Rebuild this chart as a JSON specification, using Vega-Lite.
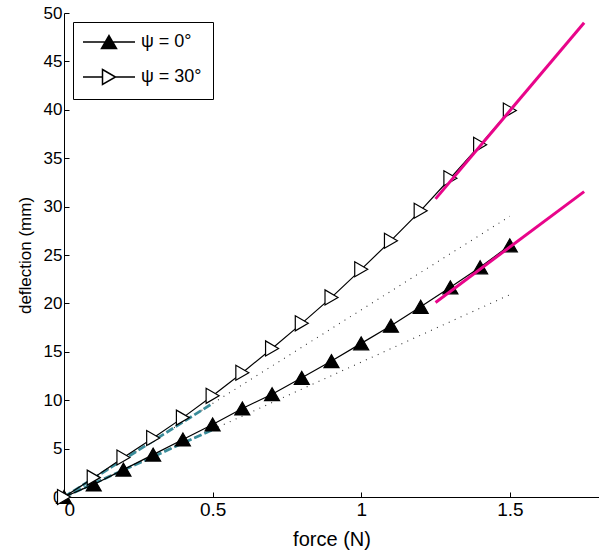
{
  "$schema": "https://vega.github.io/schema/vega-lite/v6.json",
  "autosize": {"type": "none"},
  "width": 535,
  "height": 484,
  "padding": {"left": 64, "top": 13, "right": 0, "bottom": 56},
  "background": "white",
  "config": {
    "view": {"stroke": null},
    "font": "Liberation Sans",
    "axis": {
      "grid": false,
      "domainColor": "black",
      "domainWidth": 1,
      "tickColor": "black",
      "tickWidth": 1,
      "tickSize": -5,
      "labelColor": "black",
      "labelFont": "Liberation Sans",
      "labelFontSize": 17,
      "titleColor": "black",
      "titleFont": "Liberation Sans",
      "titleFontWeight": "normal",
      "titleFontSize": 17
    }
  },
  "datasets": {
    "pts": [
      {"force": 0, "defl": 0, "series": "ψ = 0°"},
      {"force": 0.1, "defl": 1.3, "series": "ψ = 0°"},
      {"force": 0.2, "defl": 2.83, "series": "ψ = 0°"},
      {"force": 0.3, "defl": 4.38, "series": "ψ = 0°"},
      {"force": 0.4, "defl": 5.94, "series": "ψ = 0°"},
      {"force": 0.5, "defl": 7.49, "series": "ψ = 0°"},
      {"force": 0.6, "defl": 9.14, "series": "ψ = 0°"},
      {"force": 0.7, "defl": 10.62, "series": "ψ = 0°"},
      {"force": 0.8, "defl": 12.31, "series": "ψ = 0°"},
      {"force": 0.9, "defl": 14.04, "series": "ψ = 0°"},
      {"force": 1.0, "defl": 15.87, "series": "ψ = 0°"},
      {"force": 1.1, "defl": 17.69, "series": "ψ = 0°"},
      {"force": 1.2, "defl": 19.65, "series": "ψ = 0°"},
      {"force": 1.3, "defl": 21.66, "series": "ψ = 0°"},
      {"force": 1.4, "defl": 23.73, "series": "ψ = 0°"},
      {"force": 1.5, "defl": 26.0, "series": "ψ = 0°"},
      {"force": 0, "defl": 0, "series": "ψ = 30°"},
      {"force": 0.1, "defl": 2.0, "series": "ψ = 30°"},
      {"force": 0.2, "defl": 4.08, "series": "ψ = 30°"},
      {"force": 0.3, "defl": 6.1, "series": "ψ = 30°"},
      {"force": 0.4, "defl": 8.2, "series": "ψ = 30°"},
      {"force": 0.5, "defl": 10.45, "series": "ψ = 30°"},
      {"force": 0.6, "defl": 12.83, "series": "ψ = 30°"},
      {"force": 0.7, "defl": 15.35, "series": "ψ = 30°"},
      {"force": 0.8, "defl": 17.94, "series": "ψ = 30°"},
      {"force": 0.9, "defl": 20.62, "series": "ψ = 30°"},
      {"force": 1.0, "defl": 23.52, "series": "ψ = 30°"},
      {"force": 1.1, "defl": 26.48, "series": "ψ = 30°"},
      {"force": 1.2, "defl": 29.58, "series": "ψ = 30°"},
      {"force": 1.3, "defl": 32.93, "series": "ψ = 30°"},
      {"force": 1.4, "defl": 36.38, "series": "ψ = 30°"},
      {"force": 1.5, "defl": 39.93, "series": "ψ = 30°"}
    ],
    "fits": [
      {"force": 0, "defl": 0, "kind": "dotted", "fit": "d0"},
      {"force": 1.5, "defl": 20.9, "kind": "dotted", "fit": "d0"},
      {"force": 0, "defl": 0, "kind": "dotted", "fit": "d30"},
      {"force": 1.5, "defl": 29.0, "kind": "dotted", "fit": "d30"},
      {"force": 0, "defl": 0, "kind": "teal", "fit": "t0"},
      {"force": 0.5, "defl": 6.95, "kind": "teal", "fit": "t0"},
      {"force": 0, "defl": 0, "kind": "teal", "fit": "t30"},
      {"force": 0.5, "defl": 9.67, "kind": "teal", "fit": "t30"},
      {"force": 1.25, "defl": 20.1, "kind": "magenta", "fit": "m0"},
      {"force": 1.75, "defl": 31.55, "kind": "magenta", "fit": "m0"},
      {"force": 1.25, "defl": 30.8, "kind": "magenta", "fit": "m30"},
      {"force": 1.75, "defl": 49.0, "kind": "magenta", "fit": "m30"}
    ]
  },
  "encoding": {
    "x": {
      "field": "force",
      "type": "quantitative",
      "scale": {"domain": [0, 1.8], "nice": false, "zero": false},
      "axis": {"values": [0, 0.5, 1, 1.5], "format": "~g", "title": "force (N)", "labelPadding": 8, "labelFontSize": 19, "titleFontSize": 20, "titlePadding": 10}
    },
    "y": {
      "field": "defl",
      "type": "quantitative",
      "scale": {"domain": [0, 50], "nice": false},
      "axis": {"values": [0, 5, 10, 15, 20, 25, 30, 35, 40, 45, 50], "format": "d", "title": "deflection (mm)", "labelPadding": 7, "titlePadding": 9}
    }
  },
  "resolve": {"scale": {"shape": "independent", "fill": "independent"}, "legend": {"shape": "independent", "fill": "independent"}},
  "layer": [
    {
      "data": {"name": "fits"},
      "transform": [{"filter": "datum.kind === 'dotted'"}],
      "mark": {"type": "line", "color": "#333333", "strokeWidth": 1.1, "strokeDash": [1, 5.5]},
      "encoding": {"detail": {"field": "fit"}}
    },
    {
      "data": {"name": "fits"},
      "transform": [{"filter": "datum.kind === 'teal'"}],
      "mark": {"type": "line", "color": "#3a8c9a", "strokeWidth": 2.8, "strokeDash": [8, 3]},
      "encoding": {"detail": {"field": "fit"}}
    },
    {
      "data": {"name": "pts"},
      "mark": {"type": "line", "color": "black", "strokeWidth": 1.2},
      "encoding": {"detail": {"field": "series"}}
    },
    {
      "data": {"name": "pts"},
      "mark": {"type": "point", "size": 225, "stroke": "black", "strokeWidth": 1.2, "opacity": 1},
      "encoding": {
        "shape": {
          "field": "series",
          "type": "nominal",
          "scale": {"domain": ["ψ = 0°", "ψ = 30°"], "range": ["triangle-up", "triangle-right"]},
          "legend": null
        },
        "fill": {
          "field": "series",
          "type": "nominal",
          "scale": {"domain": ["ψ = 0°", "ψ = 30°"], "range": ["black", "white"]},
          "legend": null
        }
      }
    },
    {
      "data": {"name": "pts"},
      "transform": [{"filter": "datum.force < 0"}],
      "mark": {"type": "point", "size": 225, "stroke": "black", "strokeWidth": 1.2, "opacity": 1},
      "encoding": {
        "shape": {
          "field": "series",
          "type": "nominal",
          "scale": {"domain": ["ψ = 0°", "ψ = 30°"], "range": ["M-3.47,0L3.47,0M0,-0.866L1,0.866L-1,0.866ZM0,-0.635L0.8,0.751L-0.8,0.751ZM0,-0.404L0.6,0.635L-0.6,0.635ZM0,-0.173L0.4,0.52L-0.4,0.52ZM0,0.058L0.2,0.404L-0.2,0.404Z", "M-3.47,0L-0.866,0M0.866,0L3.47,0M-0.866,-1L0.866,0L-0.866,1Z"]},
          "legend": {
            "title": null,
            "orient": "top-left",
            "offset": 9,
            "padding": 11,
            "strokeColor": "black",
            "fillColor": "white",
            "cornerRadius": 0,
            "symbolSize": 225,
            "symbolOffset": 16,
            "labelOffset": 23,
            "labelFontSize": 18,
            "labelFont": "Liberation Sans",
            "labelColor": "black",
            "rowPadding": 14,
            "encode": {
              "symbols": {
                "fill": {"value": {"expr": "datum.index === 0 ? 'black' : 'white'"}},
                "stroke": {"value": "black"},
                "strokeWidth": {"value": 1.2},
                "opacity": {"value": 1}
              }
            }
          }
        }
      }
    },
    {
      "data": {"name": "fits"},
      "transform": [{"filter": "datum.kind === 'magenta'"}],
      "mark": {"type": "line", "color": "#e8058a", "strokeWidth": 3},
      "encoding": {"detail": {"field": "fit"}}
    }
  ]
}
